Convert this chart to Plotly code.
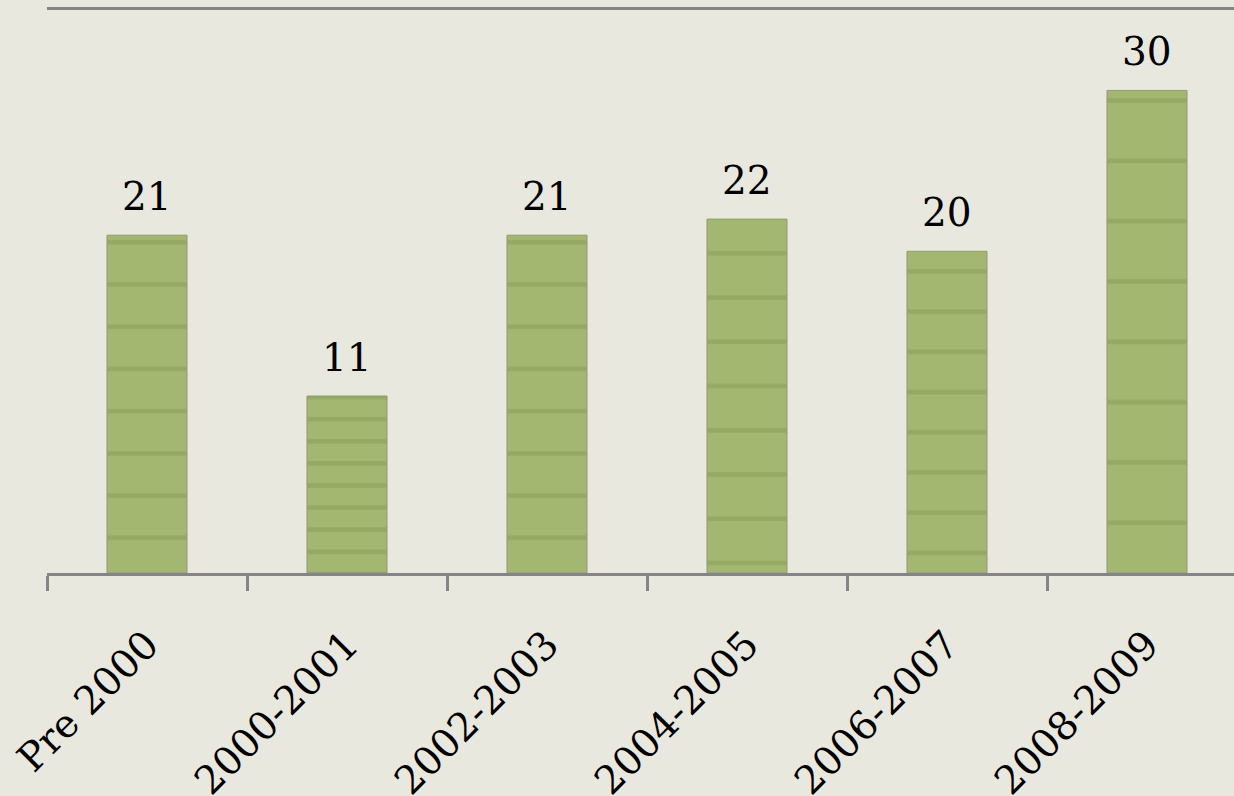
import plotly.graph_objects as go

categories = ["Pre 2000", "2000-2001", "2002-2003", "2004-2005", "2006-2007", "2008-2009"]
values = [21, 11, 21, 22, 20, 30]

FONT = "Palatino Linotype, Palatino, Book Antiqua, DejaVu Serif, serif"

Y_MAX = 35
PLOT_H = 796 - 10 - 223
PX_PER_UNIT = PLOT_H / Y_MAX
STRIPES = 8
stripe_size = [v * PX_PER_UNIT / STRIPES for v in values]
stripe_solid = [min(0.3, 4.5 / s) for s in stripe_size]

fig = go.Figure(
    go.Bar(
        x=categories,
        y=values,
        width=0.4,
        marker=dict(
            color="#a4b770",
            line=dict(color="#8f9878", width=1),
            pattern=dict(shape="-", size=stripe_size, solidity=stripe_solid,
                         fgcolor="#889b55", bgcolor="#a4b770", fillmode="overlay"),
        ),
    )
)

for c, v in zip(categories, values):
    fig.add_annotation(
        x=c, y=v, text=str(v), showarrow=False,
        yanchor="bottom", yshift=14,
        font=dict(family=FONT, size=39, color="#000000"),
    )

fig.update_layout(
    width=1234,
    height=796,
    margin=dict(l=47, r=0, t=10, b=223),
    paper_bgcolor="#e8e8df",
    plot_bgcolor="#e8e8df",
    showlegend=False,
)
fig.update_xaxes(
    range=[-0.5, 5.435],
    automargin=False,
    showline=True,
    linecolor="#858585",
    linewidth=3,
    mirror=True,
    ticks="outside",
    tickson="boundaries",
    ticklen=15,
    tickwidth=3,
    tickcolor="#858585",
    tickangle=-45,
    ticklabelstandoff=30,
    tickfont=dict(family=FONT, size=39, color="#000000"),
    showgrid=False,
)
fig.update_yaxes(
    range=[0, Y_MAX],
    automargin=False,
    visible=False,
    showgrid=False,
)

fig.write_html(
    "out.html",
    config={"displayModeBar": False},
    post_script="document.body.style.margin='0';document.body.style.overflow='hidden';",
)
